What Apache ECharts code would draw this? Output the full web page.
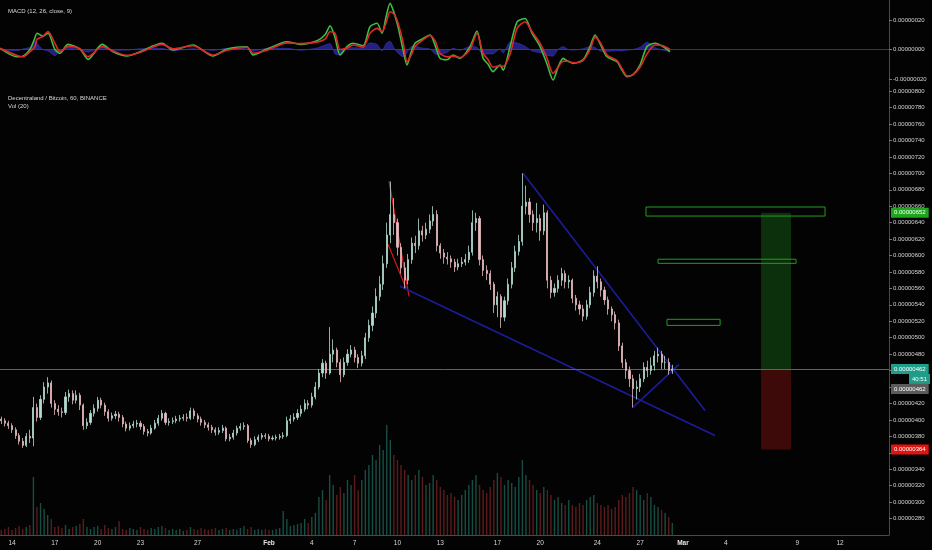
<!DOCTYPE html>
<html><head><meta charset="utf-8">
<script src="https://cdn.jsdelivr.net/npm/echarts@6/dist/echarts.min.js"></script>
<style>html,body{margin:0;padding:0;background:#030303;}#c{width:932px;height:550px;}</style>
</head><body><div id="c"></div>
<script>
// Time: days since 2020-01-01 00:00 (Jan 1 = 0). Prices in satoshi (1e-8 BTC).
const candleStartDay = 12.25;
const candleStepDays = 0.25;
// [open, close, low, high]
const candles = [
[401,399,395,404],[399,396,392,402],[396,393,389,399],[393,388,384,396],[388,381,377,391],
[381,374,370,384],[374,369,366,378],[369,380,367,384],[380,378,372,388],[378,415,368,428],
[415,403,398,420],[403,425,400,430],[425,440,420,446],[440,445,432,452],[445,420,415,448],
[420,413,406,424],[413,410,405,418],[410,409,403,415],[409,428,406,434],[428,432,422,437],
[432,424,419,436],[424,430,420,436],[430,418,412,433],[418,393,388,420],[393,397,389,402],
[397,408,394,412],[408,414,404,419],[414,424,410,428],[424,418,414,427],[418,410,405,421],
[410,402,398,413],[402,405,399,409],[405,407,401,411],[407,403,398,410],[403,395,391,406],
[395,390,386,398],[390,393,387,397],[393,395,390,399],[395,396,391,400],[396,392,388,399],
[392,386,382,395],[386,384,380,389],[384,390,382,394],[390,396,388,400],[396,402,393,406],
[402,408,399,412],[408,397,394,410],[397,398,393,402],[398,399,395,403],[399,401,396,405],
[401,402,398,406],[402,403,399,407],[403,402,398,408],[402,411,400,415],[411,405,401,414],
[405,401,397,408],[401,397,393,404],[397,394,390,400],[394,391,387,397],[391,388,384,394],
[388,385,381,391],[385,387,382,391],[387,390,384,394],[390,377,374,392],[377,379,374,383],
[379,384,376,388],[384,390,381,393],[390,392,387,396],[392,393,388,397],[393,375,372,395],
[375,370,366,378],[370,376,368,380],[376,379,373,382],[379,381,376,384],[381,380,377,384],
[380,377,374,383],[377,378,375,381],[378,379,375,382],[379,380,376,383],[380,381,377,385],
[381,399,379,404],[399,401,395,406],[401,403,398,408],[403,408,400,413],[408,413,404,418],
[413,420,410,425],[420,418,413,424],[418,428,415,433],[428,440,425,446],[440,457,437,462],
[457,469,452,474],[469,457,450,472],[457,480,455,513],[480,485,470,498],[485,470,464,488],
[470,455,446,474],[455,470,452,476],[470,480,466,486],[480,485,476,491],[485,476,470,489],
[476,469,463,480],[469,478,465,484],[478,500,474,506],[500,515,495,522],[515,530,508,538],
[530,550,524,560],[550,565,545,575],[565,590,558,600],[590,625,585,640],[625,650,615,690],
[650,640,625,670],[640,610,600,645],[610,585,578,615],[585,570,560,592],[570,595,565,602],
[595,615,590,622],[615,612,603,624],[612,630,607,645],[630,625,617,636],[625,632,620,640],
[632,642,627,650],[642,650,636,660],[650,612,605,655],[612,603,596,615],[603,598,590,608],
[598,596,589,604],[596,592,585,600],[592,586,580,596],[586,590,582,596],[590,592,586,598],
[592,595,588,602],[595,604,591,612],[604,640,600,655],[640,645,630,652],[645,595,588,648],
[595,582,575,600],[582,578,570,588],[578,565,558,582],[565,540,530,568],[540,550,525,556],
[550,525,512,553],[525,545,520,550],[545,565,540,572],[565,585,560,592],[585,605,580,612],
[605,617,600,625],[617,660,612,700],[660,665,650,685],[665,650,640,670],[650,640,630,655],
[640,645,628,664],[645,630,618,650],[630,652,625,662],[652,570,560,655],[570,555,548,575],
[555,560,550,566],[560,570,555,576],[570,578,563,585],[578,568,560,582],[568,570,560,576],
[570,548,542,572],[548,540,533,552],[540,535,528,545],[535,526,520,540],[526,540,522,546],
[540,555,536,562],[555,575,550,582],[575,568,560,587],[568,558,550,572],[558,546,540,562],
[546,535,528,550],[535,528,520,538],[528,518,510,532],[518,490,484,522],[490,470,463,494],
[470,460,450,474],[460,450,440,465],[450,438,415,455],[438,440,425,448],[440,450,434,456],
[450,464,446,470],[464,460,452,472],[460,466,455,476],[466,478,460,484],[478,480,470,488],
[480,470,462,484],[470,470,462,478],[470,460,455,475],[460,462,456,467]
];
const volumes = [
5,6,8,5,7,9,6,8,10,58, 28,32,26,20,16, 8,9,7,10,6,8,9,11, 16,
8,6,8,9,6,10,7,6,8,14, 6,5,7,6,5,8,6,5,7,6,8,9,
7,5,6,5,6,4,5,8,6,5,7,6,5,6,7, 5,6,7,5,6,5,7,9,6,8,5,6,5,6,5,5,6,7,
24,16,9,10,11,12,16,12,18,22, 38,45,35,60,50,40,48,42,55,50,60,45,
55,65,70,80,75,90,85,110,95,80, 75,70,65,60,55,60,65,58,50,52,60,
55,48,45,40,42,38,35,40,45,50, 55,60,50,45,42,48,55,62,58,
50,55,52,48,58,75,60,55,50,45,42,48,
45,40,35,38,32,30,35,30,28,32,30,35,38,40,32,30,28,30,26,28,
35,40,38,42,48,45,40,35,42,38,30,28,25,22,18,12
];
// MACD (12, 26, close, 9), satoshi
const macdDays = [12.16,13.35,13.77,14.26,14.61,14.75,15.17,15.52,16.01,16.36,16.92,17.76,18.33,19.31,20.08,21.06,21.97,23.51,24.28,25.68,27.08,28.06,29.46,29.88,30.86,32.27,33.18,34.37,34.93,35.28,35.63,35.98,36.47,36.89,37.59,38.08,38.57,38.92,39.20,39.48,39.76,40.04,40.39,40.67,40.95,41.23,41.72,42.28,42.63,42.98,43.47,43.89,44.38,45.08,45.57,46.00,46.35,46.69,47.18,47.40,47.89,48.38,48.94,49.43,49.99,50.48,50.90,51.25,51.60,51.95,52.30,53.00,53.49,53.84,54.19,54.68,55.38,55.73,56.08,56.50,56.99,57.48,58.04,58.60,59.09];
const macdLine = [0.8,-4.9,-4.5,0,8,11,9,11,0,-2.6,3.5,0.3,-6.7,3.5,-1.5,-4.4,-1.5,4.2,-0.3,3,-4.4,0.3,1.9,-3.7,0.3,5.3,3.5,6,10,16,8,-3.7,2,4.2,2.5,15.5,17.8,11,22,31.3,25,15.5,0,-10.5,-2,4.2,7,9.8,3,-6,-7,-3.7,-6,2,12.5,-6,-10,-15,-10.5,-14,2,18.8,21,11,2,-10,-20.7,-12,-6,-8,-9.4,-7,2,9.8,4,-4.9,-8.3,-14,-18.4,-17,-10.5,2,4.2,2,-1.5];
const signalLine = [0.8,-4,-4.9,-1.5,2,6.9,9,12.1,4.2,-1.5,2.1,0.5,-4.9,2,-1,-4,-2,3.5,0.5,2.5,-3.8,-0.5,1.5,-2.5,-0.5,4.5,4,5,7,12,11,0,1,3,1.5,11,14.3,12,18,25.6,24,18,5,-8.3,-4,2,6,9.5,6,-2.6,-5,-4.5,-5.5,0,11,-2.6,-7,-12,-11,-11.5,-3,14.3,18.8,12,4.2,-6,-16.2,-12,-8,-8,-9,-7.5,0,8.4,5,-3.7,-7.5,-13,-18,-17,-12,-3,3,2.5,0];
// Drawings (day, satoshi)
const lastPrice = 462;
const countdownText = '40:51';
const zoneBoxes = [[57.41,648,69.95,659],[58.25,590.5,67.92,595.5],[58.88,515,62.6,522.4]];
const positionTool = {startDay:65.47, endDay:67.57, entry:462, target:652, stop:364};
const redLines = [[[39.41,690.4],[40.81,550.4]],[[39.34,613.7],[40.6,560.1]]];
const blueLines = [[[40.18,562.5],[62.24,381]],[[48.80,700.1],[61.54,411.5]],[[56.50,415.2],[59.72,467.6]]];
// Axes
const xTickDays = [13,16,19,22,26,31,34,37,40,43,47,50,54,57,60,63,68,71];
const priceTicks = [280,300,320,340,360,380,400,420,440,460,480,500,520,540,560,580,600,620,640,660,680,700,720,740,760,780,800];
const macdTicks = [-20,0,20];
const xMin = 12.16, xMax = 74.43;

const FONT = 'Liberation Sans';
const fmtSat = v => (v/1e8).toFixed(8);
function dayLabel(d){
  d = Math.round(d);
  if (d === 31) return '{b|Feb}';
  if (d === 60) return '{b|Mar}';
  if (d < 31) return String(d+1);
  if (d < 60) return String(d-30);
  return String(d-59);
}
const UP = '#b3dcd2', DOWN = '#e6bcbf';
const candleData = candles.map((c,i)=>[candleStartDay + candleStepDays*i, c[0], c[1], c[2], c[3]]);
const volData = volumes.map((v,i)=>({value:[candleStartDay + candleStepDays*i, v],
  itemStyle:{color: candles[i][1] >= candles[i][0] ? 'rgba(38,140,120,0.55)' : 'rgba(165,50,50,0.55)'}}));
const macdData = macdDays.map((d,i)=>[d, macdLine[i]]);
const sigData = macdDays.map((d,i)=>[d, signalLine[i]]);
const histData = macdDays.map((d,i)=>[d, macdLine[i]-signalLine[i]]);

const boxAreas = zoneBoxes.map(b=>[{coord:[b[0],b[1]], itemStyle:{color:'rgba(0,0,0,0)', borderColor:'#1f9f1f', borderWidth:1}},{coord:[b[2],b[3]]}]);
const posAreas = [
  [{coord:[positionTool.startDay,positionTool.entry], itemStyle:{color:'rgba(30,140,30,0.33)'}},{coord:[positionTool.endDay,positionTool.target]}],
  [{coord:[positionTool.startDay,positionTool.stop], itemStyle:{color:'rgba(150,20,20,0.4)'}},{coord:[positionTool.endDay,positionTool.entry]}]
];
const lineMarks = [
  ...redLines.map(l=>[{coord:l[0], lineStyle:{color:'#d81818', width:1.2, type:'solid'}},{coord:l[1]}]),
  ...blueLines.map(l=>[{coord:l[0], lineStyle:{color:'#1c1c9a', width:1.6, type:'solid'}},{coord:l[1]}])
];
const axLabel = {color:'#d4d4d4', fontSize:6, fontFamily:FONT};
const tagLabel = (txt, bg, extra) => Object.assign({show:true, position:'end', distance:2, formatter:txt,
  color:'#ffffff', backgroundColor:bg, padding:[2,3,2,3], fontSize:6, fontFamily:FONT}, extra||{});
const hidden = {color:'rgba(0,0,0,0)', width:0.01, type:'solid'};
const tagLines = [
  {yAxis:lastPrice, lineStyle:{color:'#2e7a6c', width:1, type:'solid'}, label:tagLabel(fmtSat(lastPrice),'#1f9d89')},
  {yAxis:positionTool.target, lineStyle:hidden, label:tagLabel(fmtSat(positionTool.target),'#1da51d')},
  {yAxis:positionTool.stop, lineStyle:hidden, label:tagLabel(fmtSat(positionTool.stop),'#e3140f')}
];
const stackedTags = [
  {yAxis:lastPrice, lineStyle:hidden, label:tagLabel(countdownText,'#1f9d89',{offset:[18,10]})},
  {yAxis:positionTool.entry, lineStyle:hidden, label:tagLabel(fmtSat(positionTool.entry),'#5b5b5b',{offset:[0,20]})}
];

const chart = echarts.init(document.getElementById('c'), null, {renderer:'canvas'});
chart.setOption({
  backgroundColor:'#030303',
  animation:false,
  textStyle:{fontFamily:FONT},
  title:[
    {text:'MACD (12, 26, close, 9)', left:3, top:3, textStyle:{color:'#d8d8d8', fontSize:6, fontWeight:'normal', fontFamily:FONT}},
    {text:'Decentraland / Bitcoin, 60, BINANCE', left:3, top:90, textStyle:{color:'#d8d8d8', fontSize:6, fontWeight:'normal', fontFamily:FONT}},
    {text:'Vol (20)', left:3, top:98, textStyle:{color:'#d8d8d8', fontSize:6, fontWeight:'normal', fontFamily:FONT}}
  ],
  grid:[
    {left:0, right:43, top:0, height:86},
    {left:0, right:43, top:87, height:448},
    {left:0, right:43, top:380, height:155}
  ],
  xAxis:[
    {type:'value', gridIndex:0, min:xMin, max:xMax, axisLine:{show:true, lineStyle:{color:'#3c3c3c'}}, axisTick:{show:false}, axisLabel:{show:false}, splitLine:{show:false}},
    {type:'value', gridIndex:1, min:xMin, max:xMax, axisLine:{show:true, lineStyle:{color:'#4a4a4a'}},
      axisTick:{show:false, customValues:xTickDays},
      axisLabel:{show:true, customValues:xTickDays, formatter:dayLabel, color:'#d8d8d8', fontSize:6.5, fontFamily:FONT, margin:5,
        rich:{b:{fontWeight:'bold', color:'#e8e8e8', fontSize:6.5, fontFamily:FONT}}},
      splitLine:{show:false}},
    {type:'value', gridIndex:2, min:xMin, max:xMax, show:false}
  ],
  yAxis:[
    {type:'value', gridIndex:0, position:'right', min:-24.75, max:33.56,
      axisLine:{show:true, lineStyle:{color:'#4a4a4a'}},
      axisTick:{show:true, length:3, customValues:macdTicks, lineStyle:{color:'#777'}},
      axisLabel:Object.assign({customValues:macdTicks, formatter:fmtSat, margin:4}, axLabel), splitLine:{show:false}},
    {type:'value', gridIndex:1, position:'right', min:260, max:805,
      axisLine:{show:true, lineStyle:{color:'#4a4a4a'}},
      axisTick:{show:true, length:3, customValues:priceTicks, lineStyle:{color:'#777'}},
      axisLabel:Object.assign({customValues:priceTicks, formatter:fmtSat, margin:4}, axLabel), splitLine:{show:false}},
    {type:'value', gridIndex:2, min:0, max:155, show:false}
  ],
  series:[
    {type:'line', name:'Histogram', xAxisIndex:0, yAxisIndex:0, data:histData, symbol:'none', smooth:0.2,
      lineStyle:{width:0.6, color:'#3a34c8'}, areaStyle:{color:'rgba(58,52,210,0.85)'}, z:2},
    {type:'line', name:'MACD', xAxisIndex:0, yAxisIndex:0, data:macdData, symbol:'none', smooth:0.25,
      lineStyle:{width:1.6, color:'#3fbf3f'}, z:3},
    {type:'line', name:'Signal', xAxisIndex:0, yAxisIndex:0, data:sigData, symbol:'none', smooth:0.25,
      lineStyle:{width:1.6, color:'#e0282a'}, z:4},
    {type:'bar', name:'Volume', xAxisIndex:2, yAxisIndex:2, data:volData, barWidth:1.4, z:1},
    {type:'candlestick', name:'MANA/BTC', xAxisIndex:1, yAxisIndex:1, data:candleData,
      encode:{x:0, y:[1,2,3,4]}, barWidth:1.6,
      itemStyle:{color:UP, color0:DOWN, borderColor:UP, borderColor0:DOWN, borderWidth:0.8},
      markArea:{silent:true, data:[...posAreas, ...boxAreas]},
      markLine:{silent:true, symbol:['none','none'], animation:false, label:{show:false}, data:[...lineMarks, ...tagLines]},
      z:5},
    {type:'line', name:'Tags', xAxisIndex:1, yAxisIndex:1, data:[], silent:true,
      markLine:{silent:true, symbol:['none','none'], animation:false, data:stackedTags}, z:6}
  ]
});
</script></body></html>
